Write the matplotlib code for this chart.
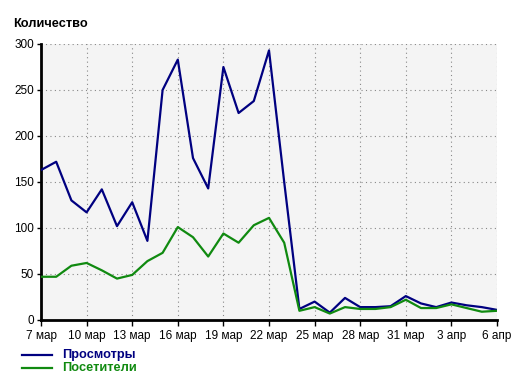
import matplotlib
matplotlib.use('Agg')
import matplotlib.pyplot as plt
import numpy as np

# daily values, 7 мар .. 6 апр
days = list(range(31))
tick_labels = ['7 мар', '10 мар', '13 мар', '16 мар', '19 мар', '22 мар',
               '25 мар', '28 мар', '31 мар', '3 апр', '6 апр']
views = [163, 172, 130, 117, 142, 102, 128, 86, 250, 283, 176, 143, 275, 225,
         238, 293, 150, 12, 20, 8, 24, 14, 14, 15, 26, 18, 14, 19, 16, 14, 11]
visitors = [47, 47, 59, 62, 54, 45, 49, 64, 73, 101, 90, 69, 94, 84, 103, 111,
            84, 10, 14, 7, 14, 12, 12, 14, 22, 13, 13, 17, 13, 9, 10]

blue = '#000080'
green = '#108a10'

plt.rcParams['font.family'] = ['Liberation Sans', 'DejaVu Sans']

fig = plt.figure(figsize=(5.28, 3.81), dpi=100)
ax = fig.add_axes([41 / 528, 61 / 381, 456 / 528, 276 / 381])
ax.set_facecolor('#f4f4f4')

ax.plot(days, views, color=blue, lw=1.6, zorder=3)
ax.plot(days, visitors, color=green, lw=1.6, zorder=3)

ax.set_xlim(0, 30)
ax.set_ylim(0, 300)
ax.set_xticks(np.arange(0, 31, 3))
ax.set_xticklabels(tick_labels, fontsize=8.5)
ax.set_yticks(np.arange(0, 301, 50))
ax.tick_params(axis='y', labelsize=8.5, length=3, width=1, pad=2)
ax.tick_params(axis='x', length=4, width=1, pad=3)
ax.grid(True, linestyle=(0, (1, 3)), color='#888888', lw=0.8)
for s in ['top', 'right']:
    ax.spines[s].set_visible(False)
for s in ['left', 'bottom']:
    ax.spines[s].set_linewidth(2)
    ax.spines[s].set_color('black')

fig.text(13 / 528, 1 - 24 / 381, 'Количество', fontsize=9.2, fontweight='bold',
         va='center', ha='left')

# legend
for y, col, name in [(355, blue, 'Просмотры'), (368, green, 'Посетители')]:
    yf = 1 - y / 381
    fig.add_artist(plt.Line2D([22 / 528, 52 / 528], [yf, yf], color=col, lw=1.6))
    fig.text(62 / 528, yf, name, color=col, fontsize=9.2, fontweight='bold',
             va='center', ha='left')

fig.savefig('out.png', dpi=100)
